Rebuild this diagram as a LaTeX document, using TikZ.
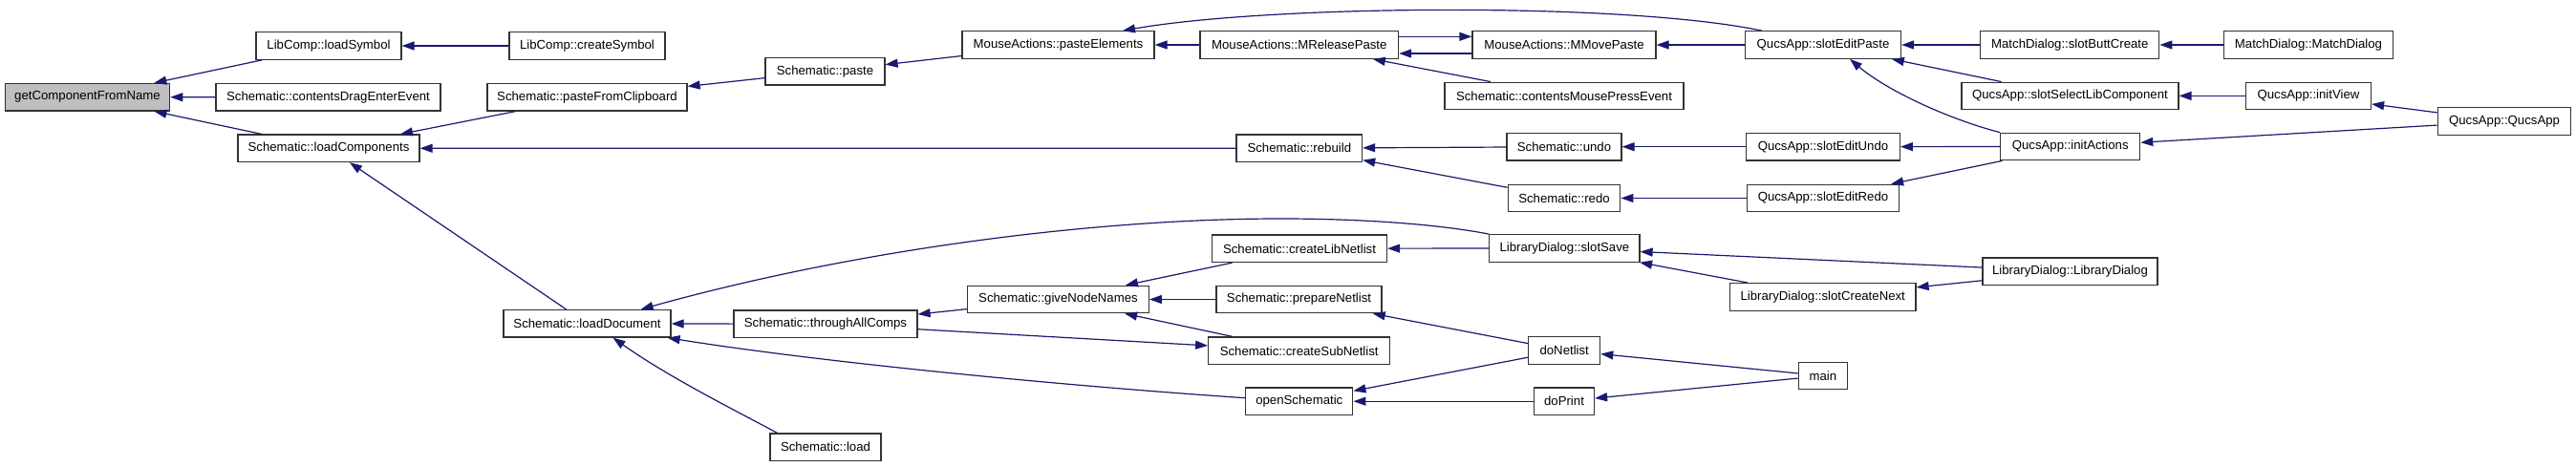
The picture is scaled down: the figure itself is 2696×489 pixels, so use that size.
\documentclass[tikz,border=0pt]{standalone}
\usepackage{fontspec}
\setmainfont{Liberation Sans}
\usetikzlibrary{arrows.meta}
\definecolor{edgeblue}{HTML}{191970}
\definecolor{rootgray}{HTML}{BFBFBF}
\begin{document}
\begin{tikzpicture}[x=1pt,y=-1pt,
  fn/.style={draw=black!80, line width=1.2pt, fill=white, rectangle, inner sep=0pt,
    minimum height=28.5pt, font=\fontsize{13.2}{15}\selectfont},
  rootfn/.style={fn, fill=rootgray},
  edge/.style={draw=edgeblue, line width=1.2pt, -{Triangle[length=13pt,width=9pt]}}]
\useasboundingbox (0,0) rectangle (2696,489);
% nodes
\node[rootfn, minimum width=172.3pt] (gcfn) at (91.5,101.7) {getComponentFromName};
\node[fn, minimum width=152pt] (lsym) at (344,48) {LibComp::loadSymbol};
\node[fn, minimum width=163pt] (csym) at (614.5,48) {LibComp::createSymbol};
\node[fn, minimum width=235pt] (cdee) at (343.5,101.8) {Schematic::contentsDragEnterEvent};
\node[fn, minimum width=209pt] (pfc) at (614.5,101.8) {Schematic::pasteFromClipboard};
\node[fn, minimum width=190pt] (lcomp) at (344,155.3) {Schematic::loadComponents};
\node[fn, minimum width=175pt] (ldoc) at (614.5,338.8) {Schematic::loadDocument};
\node[fn, minimum width=125pt] (paste) at (863.5,74.8) {Schematic::paste};
\node[fn, minimum width=201pt] (pel) at (1107.5,47) {MouseActions::pasteElements};
\node[fn, minimum width=207.6pt] (mrp) at (1359.8,47) {MouseActions::MReleasePaste};
\node[fn, minimum width=131.6pt] (rebuild) at (1359.8,155.2) {Schematic::rebuild};
\node[fn, minimum width=183pt] (cln) at (1360,260.3) {Schematic::createLibNetlist};
\node[fn, minimum width=189.7pt] (gnn) at (1107.5,313.5) {Schematic::giveNodeNames};
\node[fn, minimum width=173pt] (prep) at (1359.5,313.5) {Schematic::prepareNetlist};
\node[fn, minimum width=192pt] (tac) at (864,339.3) {Schematic::throughAllComps};
\node[fn, minimum width=190pt] (csn) at (1359.7,367.3) {Schematic::createSubNetlist};
\node[fn, minimum width=112pt] (opens) at (1359.8,420.2) {openSchematic};
\node[fn, minimum width=116pt] (load) at (864,468.2) {Schematic::load};
\node[fn, minimum width=192pt] (mmp) at (1637,47) {MouseActions::MMovePaste};
\node[fn, minimum width=250pt] (cmpe) at (1637,100.4) {Schematic::contentsMousePressEvent};
\node[fn, minimum width=163pt] (sep) at (1908,47) {QucsApp::slotEditPaste};
\node[fn, minimum width=120pt] (undo) at (1637,153.7) {Schematic::undo};
\node[fn, minimum width=160.6pt] (seu) at (1908,153.7) {QucsApp::slotEditUndo};
\node[fn, minimum width=117.7pt] (redo) at (1637,207.5) {Schematic::redo};
\node[fn, minimum width=159pt] (ser) at (1908,207.5) {QucsApp::slotEditRedo};
\node[fn, minimum width=157.3pt] (ssave) at (1637.4,259.9) {LibraryDialog::slotSave};
\node[fn, minimum width=194.6pt] (scn) at (1907.7,310.9) {LibraryDialog::slotCreateNext};
\node[fn, minimum width=75pt] (donl) at (1637.2,366.9) {doNetlist};
\node[fn, minimum width=51pt] (main) at (1907.8,393.5) {main};
\node[fn, minimum width=63pt] (dopr) at (1637,420.2) {doPrint};
\node[fn, minimum width=187pt] (sbc) at (2166.3,47) {MatchDialog::slotButtCreate};
\node[fn, minimum width=176.6pt] (md) at (2416,47) {MatchDialog::MatchDialog};
\node[fn, minimum width=227pt] (sslc) at (2166.4,100.4) {QucsApp::slotSelectLibComponent};
\node[fn, minimum width=131pt] (iv) at (2416,100.4) {QucsApp::initView};
\node[fn, minimum width=139.7pt] (qa) at (2621,127) {QucsApp::QucsApp};
\node[fn, minimum width=146pt] (ia) at (2166.7,153.5) {QucsApp::initActions};
\node[fn, minimum width=183pt] (ld) at (2166.5,284.3) {LibraryDialog::LibraryDialog};
% edges (arrow at the called function)
\draw[edge] (lsym) -- (gcfn);
\draw[edge] (cdee) -- (gcfn);
\draw[edge] (lcomp) -- (gcfn);
\draw[edge] (csym) -- (lsym);
\draw[edge] (pfc) -- (lcomp);
\draw[edge] (rebuild) -- (lcomp);
\draw[edge] (ldoc) -- (lcomp);
\draw[edge] (paste) -- (pfc);
\draw[edge] (pel) -- (paste);
\draw[edge] (mrp) -- (pel);
\draw[edge] ([xshift=-64pt]sep.north) .. controls (1700,2) and (1330,5) .. ([xshift=67.5pt]pel.north);
\draw[edge] ([yshift=8.7pt]mrp.east) -- ([yshift=8.7pt]mmp.west);
\draw[edge] ([yshift=-9pt]mmp.west) -- ([yshift=-9pt]mrp.east);
\draw[edge] (cmpe) -- (mrp);
\draw[edge] (sep) -- (mmp);
\draw[edge] (sbc) -- (sep);
\draw[edge] (sslc) -- (sep);
\draw[edge] (ia.north west) .. controls (2040,125) and (1975,95) .. ([xshift=28pt]sep.south);
\draw[edge] (md) -- (sbc);
\draw[edge] (iv) -- (sslc);
\draw[edge] (qa) -- (iv);
\draw[edge] (qa) -- (ia);
\draw[edge] (undo) -- (rebuild);
\draw[edge] (redo) -- (rebuild);
\draw[edge] (seu) -- (undo);
\draw[edge] (ser) -- (redo);
\draw[edge] (ia) -- (seu);
\draw[edge] (ia) -- (ser);
\draw[edge] (ssave.north west) .. controls (1500,234) and (1420,229) .. (1340,229)
   .. controls (1150,229) and (900,260) .. ([xshift=-32pt]ldoc.north east);
\draw[edge] (cln) -- (gnn);
\draw[edge] (prep) -- (gnn);
\draw[edge] (csn) -- (gnn);
\draw[edge] (gnn) -- (tac);
\draw[edge] (tac) -- (csn);
\draw[edge] (tac) -- (ldoc);
\draw[edge] ([yshift=3.5pt]opens.west) .. controls (1100,403) and (850,378) .. ([xshift=-4pt]ldoc.south east);
\draw[edge] ([xshift=8pt]load.north west) .. controls (770,430) and (700,395) .. ([xshift=27pt]ldoc.south);
\draw[edge] (ssave) -- (cln);
\draw[edge] (ld) -- (ssave);
\draw[edge] (scn) -- (ssave);
\draw[edge] (ld) -- (scn);
\draw[edge] (donl) -- (prep);
\draw[edge] (donl) -- (opens);
\draw[edge] (main) -- (donl);
\draw[edge] (main) -- (dopr);
\draw[edge] (dopr) -- (opens);
\end{tikzpicture}
\end{document}
